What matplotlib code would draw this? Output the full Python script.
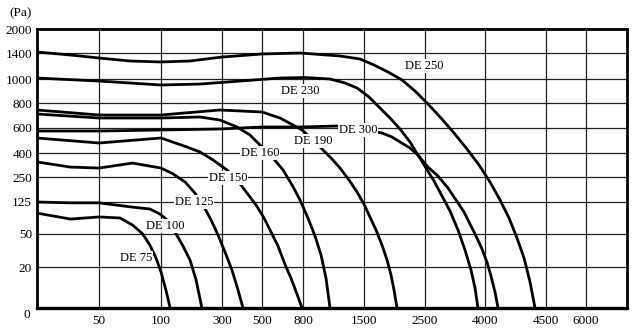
import numpy as np
import matplotlib
matplotlib.use("Agg")
import matplotlib.pyplot as plt

plt.rcParams["font.family"] = ["Liberation Serif", "DejaVu Serif"]

# ---- axis ticks (the chart uses a non-uniform scale) ----
x_ticks = [50, 100, 300, 500, 800, 1500, 2500, 4000, 4500, 6000]
y_ticks = [20, 50, 125, 250, 400, 600, 800, 1000, 1400, 2000]

# scale anchors: value -> relative position along the axis
x_anchor_vals = [0, 50, 100, 300, 500, 800, 1500, 2500, 4000, 4500, 6000, 7000]
x_anchor_pos = [0, 62, 124, 185, 225, 266, 327, 388, 448, 509, 549, 590]
y_anchor_vals = [0, 20, 50, 125, 250, 400, 600, 800, 1000, 1400, 2000]
y_anchor_pos = [0, 41, 74, 106, 131, 155, 180, 205, 229, 255, 279]

# ---- fan curves: airflow (m3/h) vs pressure (Pa) ----
de75_q = [0, 27, 50, 67, 77, 85, 91, 96, 100, 116, 130]
de75_p = [99, 85, 90, 87.5, 71, 50.9, 40, 28.2, 17.6, 8.8, 0]

de100_q = [0, 27, 50, 77, 91, 99, 120, 146, 172, 195, 215, 234]
de100_p = [125, 123, 123, 113, 108.6, 97, 83, 54.7, 39.1, 26.4, 13.7, 0]

de125_q = [0, 27, 50, 77, 100, 139, 179, 211, 238, 264, 287, 315, 350, 380, 405]
de125_p = [344, 312, 306, 337, 306, 270, 225, 170, 118, 83, 49.1, 33.6, 18.5, 8.8, 0]

de150_q = [0, 50, 100, 185, 228, 271, 325, 375, 425, 470, 515, 566, 617, 668, 712, 756, 793]
de150_p = [520, 480, 520, 448, 408, 356, 294, 235, 170, 118, 87.5, 54.7, 39.1, 22.4, 14.6, 6.8, 0]

de160_q = [0, 50, 100, 228, 293, 375, 440, 490, 580, 654, 720, 778, 857, 938, 1007, 1064, 1110]
de160_p = [712, 680, 680, 688, 664, 608, 544, 464, 369, 294, 210, 135, 87.5, 48.2, 30.9, 14.6, 0]

de190_q = [0, 50, 100, 293, 500, 632, 727, 793, 915, 1030, 1133, 1225, 1328, 1420,
           1500, 1598, 1697, 1795, 1877, 1943, 1992, 2041]
de190_p = [744, 704, 704, 744, 728, 680, 624, 584, 504, 424, 362, 306, 235, 175,
           120, 89.8, 59.4, 40, 26.4, 16.1, 8.8, 0]

de230_q = [0, 50, 100, 228, 390, 632, 815, 1110, 1282, 1420, 1582, 1762, 1926, 2090,
           2254, 2385, 2525, 2725, 2925, 3125, 3325, 3500, 3650, 3750, 3825]
de230_p = [1015, 983, 950, 958, 983, 1015, 1023, 1000, 967, 925, 850, 760, 680, 592,
           488, 387, 306, 230, 155, 104, 59.4, 35.5, 18.5, 9.8, 0]

de250_q = [0, 27, 50, 75, 100, 195, 300, 500, 778, 1225, 1454, 1664, 1893, 2123, 2336,
           2575, 2900, 3225, 3550, 3850, 4041, 4123, 4197, 4262, 4320, 4369, 4410]
de250_p = [1425, 1369, 1323, 1277, 1262, 1277, 1338, 1385, 1400, 1354, 1308, 1215, 1108,
           992, 900, 792, 680, 560, 432, 325, 225, 135, 87.5, 46.4, 28.2, 12.7, 0]

de300_q = [0, 50, 100, 293, 500, 778, 1190, 1795, 1959, 2090, 2254, 2385, 2575, 2825,
           3075, 3275, 3475, 3625, 3775, 3925, 4016, 4049, 4082, 4107]
de300_p = [576, 576, 584, 592, 608, 608, 616, 560, 528, 488, 440, 387, 312, 256,
           195, 135, 101.6, 73.4, 48.2, 36.4, 24.5, 15.6, 7.8, 0]

curve_names = ["DE 75", "DE 100", "DE 125", "DE 150", "DE 160",
               "DE 190", "DE 230", "DE 250", "DE 300"]
curves = [(de75_q, de75_p), (de100_q, de100_p), (de125_q, de125_p),
          (de150_q, de150_p), (de160_q, de160_p), (de190_q, de190_p),
          (de230_q, de230_p), (de250_q, de250_p), (de300_q, de300_p)]
# label anchor positions (axes fraction)
label_pos = [(0.168, 0.179), (0.217, 0.294), (0.266, 0.380), (0.324, 0.466),
             (0.378, 0.556), (0.468, 0.599), (0.447, 0.778), (0.656, 0.867),
             (0.544, 0.638)]


def xf(v):
    return np.interp(v, x_anchor_vals, x_anchor_pos)


def xi(p):
    return np.interp(p, x_anchor_pos, x_anchor_vals)


def yf(v):
    return np.interp(v, y_anchor_vals, y_anchor_pos)


def yi(p):
    return np.interp(p, y_anchor_pos, y_anchor_vals)


fig = plt.figure(figsize=(6.4, 3.32), dpi=100)
ax = fig.add_axes([37 / 640, 1 - 308 / 332, 590 / 640, 279 / 332])
ax.set_xscale("function", functions=(xf, xi))
ax.set_yscale("function", functions=(yf, yi))
ax.set_xlim(0, 7000)
ax.set_ylim(0, 2000)

for q, p in curves:
    ax.plot(q, p, color="black", lw=2.0, solid_capstyle="butt",
            solid_joinstyle="round", zorder=3)

for name, (lx, ly) in zip(curve_names, label_pos):
    ax.text(lx, ly, name, transform=ax.transAxes, ha="center", va="center",
            fontsize=9, zorder=5,
            bbox=dict(boxstyle="square,pad=0.08", fc="white", ec="none"))

ax.set_xticks(x_ticks)
ax.set_xticklabels([str(v) for v in x_ticks])
ax.set_yticks(y_ticks)
ax.set_yticklabels([str(v) for v in y_ticks])
ax.xaxis.set_minor_locator(matplotlib.ticker.NullLocator())
ax.yaxis.set_minor_locator(matplotlib.ticker.NullLocator())
ax.tick_params(axis="both", length=0, labelsize=9.5)
ax.tick_params(axis="x", pad=5)
ax.tick_params(axis="y", pad=3.5)
ax.grid(True, color="#222222", lw=0.9, zorder=1)
ax.set_axisbelow(True)
for side in ["top", "left", "right"]:
    ax.spines[side].set_linewidth(2.0)
ax.spines["bottom"].set_linewidth(2.4)
for s in ax.spines.values():
    s.set_zorder(6)

ax.annotate("0", xy=(0, 0), xycoords="data", xytext=(-10, -7),
            textcoords="offset pixels", ha="center", va="center",
            fontsize=9.5)
fig.text(21 / 640, 1 - 13 / 332, "(Pa)", ha="center", va="center",
         fontsize=9.5)

fig.savefig("out.png", dpi=100)
